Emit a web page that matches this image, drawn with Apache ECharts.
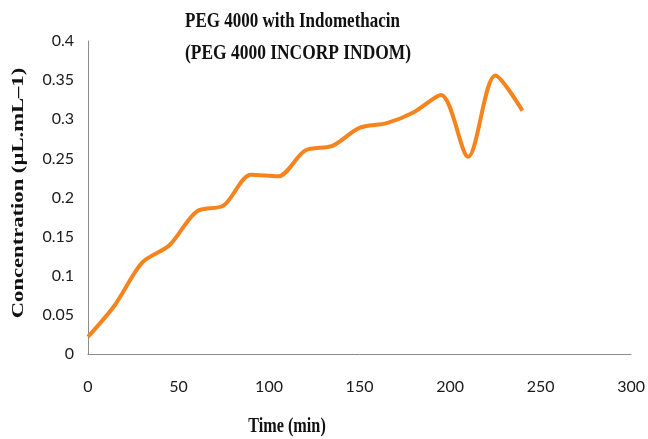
<!DOCTYPE html>
<html>
<head>
<meta charset="utf-8">
<script src="https://cdn.jsdelivr.net/npm/echarts@6/dist/echarts.min.js"></script>
<style>
html,body{margin:0;padding:0;background:#fff;}
#chart{width:648px;height:439px;}
</style>
</head>
<body>
<div id="chart"></div>
<script>
var titleLine1 = 'PEG 4000 with Indomethacin';
var titleLine2 = '(PEG 4000 INCORP INDOM)';
var xAxisTitle = 'Time (min)';
var yAxisTitle = 'Concentration (µL.mL–1)';
var timeMin = [0, 15, 30, 45, 60, 75, 90, 105, 120, 135, 150, 165, 180, 195, 210, 225, 240];
var concentration = [0.022, 0.063, 0.117, 0.139, 0.182, 0.190, 0.229, 0.227, 0.260, 0.266, 0.289, 0.295, 0.309, 0.331, 0.252, 0.356, 0.311];

var chart = echarts.init(document.getElementById('chart'));
var serif = '"Liberation Serif", "DejaVu Serif", serif';
var sans = 'Lato, "Open Sans", sans-serif';

chart.setOption({
  animation: false,
  backgroundColor: '#ffffff',
  grid: {left: 88, right: 15, top: 41, bottom: 85, containLabel: false},
  xAxis: {
    type: 'value', min: 0, max: 300, interval: 50,
    axisLine: {show: true, lineStyle: {color: '#8c8c8c', width: 1}},
    axisTick: {show: false},
    splitLine: {show: false},
    axisLabel: {margin: 25, color: '#1a1a1a', fontFamily: sans, fontSize: 16}
  },
  yAxis: {
    type: 'value', min: 0, max: 0.4, interval: 0.05,
    axisLine: {show: true, lineStyle: {color: '#8c8c8c', width: 1}},
    axisTick: {show: false},
    splitLine: {show: false},
    axisLabel: {margin: 14, color: '#1a1a1a', fontFamily: sans, fontSize: 16}
  },
  series: [{
    type: 'line',
    data: timeMin.map(function (t, i) { return [t, concentration[i]]; }),
    smooth: 0.3,
    showSymbol: false,
    lineStyle: {color: '#F5841F', width: 4}
  }],
  graphic: [
    {type: 'text', x: 185, y: 22, scaleX: 0.81,
     style: {text: titleLine1, font: 'bold 21px ' + serif, fill: '#111', verticalAlign: 'middle'}},
    {type: 'text', x: 185, y: 54, scaleX: 0.83,
     style: {text: titleLine2, font: 'bold 21px ' + serif, fill: '#111', verticalAlign: 'middle'}},
    {type: 'text', x: 287, y: 427, scaleX: 0.81,
     style: {text: xAxisTitle, font: 'bold 20px ' + serif, fill: '#111', align: 'center', verticalAlign: 'middle'}},
    {type: 'text', x: 19, y: 193, rotation: Math.PI / 2, scaleX: 1.33,
     style: {text: yAxisTitle, font: 'bold 17px ' + serif, fill: '#111', align: 'center', verticalAlign: 'middle'}}
  ]
});
</script>
</body>
</html>
